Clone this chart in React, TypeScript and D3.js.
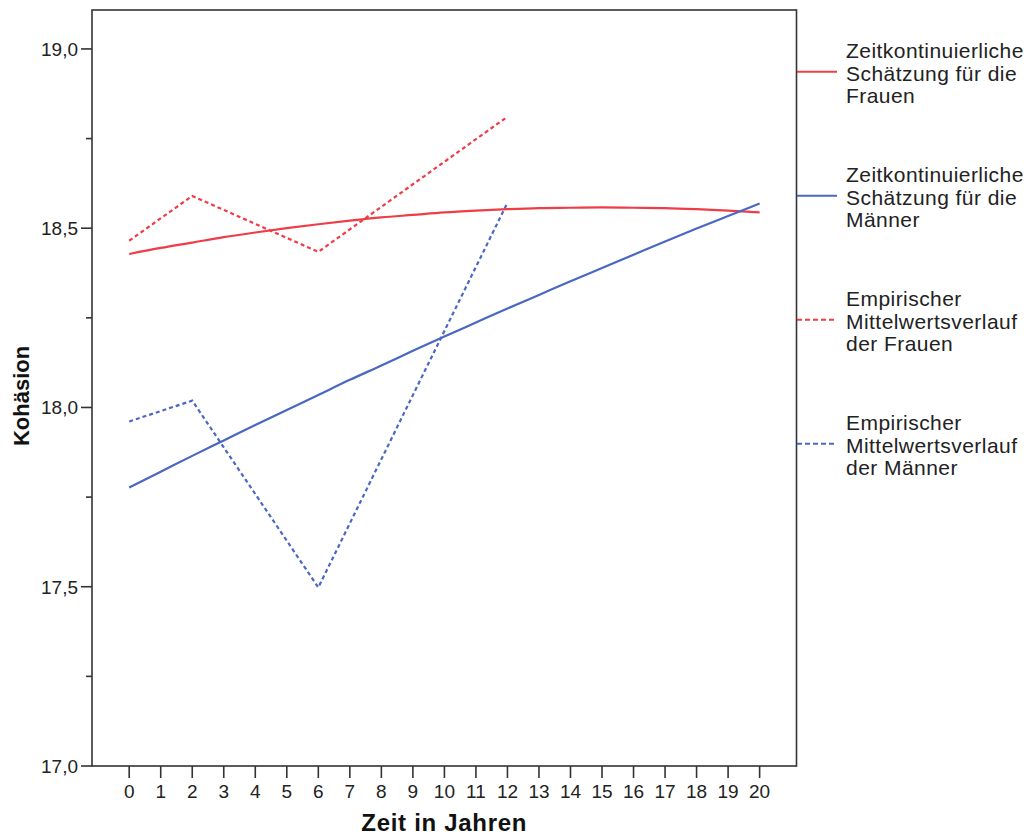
import React from "react";
import * as d3 from "d3";

// Years on the x axis
const years: number[] = d3.range(0, 21);

// Model-based (time-continuous) estimates per year
const estFrauen: number[] = [
  18.428, 18.445, 18.460, 18.475, 18.488, 18.500, 18.511, 18.521, 18.530, 18.537,
  18.544, 18.549, 18.553, 18.556, 18.557, 18.558, 18.557, 18.556, 18.553, 18.549, 18.544,
];
const estMaenner: number[] = [
  17.777, 17.821, 17.865, 17.908, 17.951, 17.993, 18.035, 18.077, 18.117, 18.158,
  18.198, 18.237, 18.276, 18.314, 18.352, 18.389, 18.426, 18.463, 18.499, 18.534, 18.569,
];

// Empirical means at the measurement waves
const waveYears: number[] = [0, 2, 6, 12];
const empFrauen: number[] = [18.465, 18.59, 18.434, 18.811];
const empMaenner: number[] = [17.961, 18.019, 17.498, 18.571];

const yMajorTicks: number[] = [17.0, 17.5, 18.0, 18.5, 19.0];
const yMinorTicks: number[] = [17.25, 17.75, 18.25, 18.75];

const legendItems = [
  { lines: ["Zeitkontinuierliche", "Schätzung für die", "Frauen"], color: "#f03c46", dashed: false },
  { lines: ["Zeitkontinuierliche", "Schätzung für die", "Männer"], color: "#4a68c2", dashed: false },
  { lines: ["Empirischer", "Mittelwertsverlauf", "der Frauen"], color: "#f03c46", dashed: true },
  { lines: ["Empirischer", "Mittelwertsverlauf", "der Männer"], color: "#4a68c2", dashed: true },
];

const RED = "#f03c46";
const BLUE = "#4a68c2";
const AXIS = "#333333";
const FONT = "'Liberation Sans', Arial, sans-serif";

export default function App() {
  const width = 1030;
  const height = 838;
  const left = 92;
  const right = 796.5;
  const top = 10;
  const bottom = 766;

  const x = d3.scaleLinear().domain([-1.18, 21.17]).range([left, right]);
  const y = d3.scaleLinear().domain([17.0, 19.11]).range([bottom, top - 0.5]);

  const smooth = d3
    .line<number>()
    .x((_, i) => x(years[i]))
    .y((d) => y(d))
    .curve(d3.curveMonotoneX);

  const straight = d3
    .line<number>()
    .x((_, i) => x(waveYears[i]))
    .y((d) => y(d));

  return (
    <svg
      width={width}
      height={height}
      style={{ position: "absolute", left: 0, top: 0, background: "#fff" }}
      fontFamily={FONT}
    >
      <rect x={0} y={0} width={width} height={height} fill="#fff" />

      {/* Data lines */}
      <path d={straight(empFrauen) || ""} fill="none" stroke={RED} strokeWidth={2.2} strokeDasharray="4,3" />
      <path d={straight(empMaenner) || ""} fill="none" stroke={BLUE} strokeWidth={2.2} strokeDasharray="4,3" />
      <path d={smooth(estFrauen) || ""} fill="none" stroke={RED} strokeWidth={2.2} />
      <path d={smooth(estMaenner) || ""} fill="none" stroke={BLUE} strokeWidth={2.2} />

      {/* Frame */}
      <rect x={left} y={top} width={right - left} height={bottom - top} fill="none" stroke={AXIS} strokeWidth={1.6} />

      {/* Y axis ticks */}
      {yMajorTicks.map((t) => (
        <g key={"ym" + t}>
          <line x1={left - 11} x2={left} y1={y(t)} y2={y(t)} stroke={AXIS} strokeWidth={1.6} />
          <text x={78} y={y(t)} dy="0.36em" textAnchor="end" fontSize={19} fill="#222">
            {t.toFixed(1).replace(".", ",")}
          </text>
        </g>
      ))}
      {yMinorTicks.map((t) => (
        <line key={"yn" + t} x1={left - 6} x2={left} y1={y(t)} y2={y(t)} stroke={AXIS} strokeWidth={1.6} />
      ))}

      {/* X axis ticks */}
      {years.map((t) => (
        <g key={"x" + t}>
          <line x1={x(t)} x2={x(t)} y1={bottom} y2={bottom + 12} stroke={AXIS} strokeWidth={1.6} />
          <text x={x(t)} y={798} textAnchor="middle" fontSize={19} fill="#222">
            {t}
          </text>
        </g>
      ))}

      {/* Axis titles */}
      <text
        x={(left + right) / 2}
        y={831}
        textAnchor="middle"
        fontSize={24}
        fontWeight="bold"
        letterSpacing={0.7}
        fill="#111"
      >
        Zeit in Jahren
      </text>
      <text
        transform={`translate(29, 396) rotate(-90)`}
        textAnchor="middle"
        fontSize={22}
        fontWeight="bold"
        fill="#111"
      >
        Kohäsion
      </text>

      {/* Legend */}
      {legendItems.map((item, i) => {
        const ly = 71.7 + i * 124;
        return (
          <g key={"lg" + i}>
            <line
              x1={797}
              x2={837}
              y1={ly}
              y2={ly}
              stroke={item.color}
              strokeWidth={2}
              strokeDasharray={item.dashed ? "5,3" : undefined}
            />
            {item.lines.map((txt, j) => (
              <text key={j} x={846} y={ly - 13.5 + j * 22.5} fontSize={21} letterSpacing={0.45} fill="#222">
                {txt}
              </text>
            ))}
          </g>
        );
      })}
    </svg>
  );
}
